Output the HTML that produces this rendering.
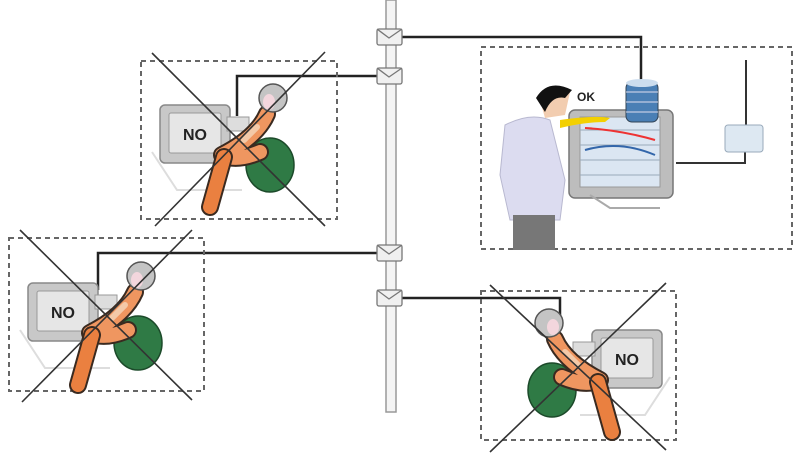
<!DOCTYPE html>
<html><head><meta charset="utf-8"><style>
html,body{margin:0;padding:0;background:#fff;}
svg{display:block;font-family:"Liberation Sans",sans-serif;}
</style></head><body>
<svg width="800" height="461" viewBox="0 0 800 461" xmlns="http://www.w3.org/2000/svg">
<defs>
<g id="user">
  <path d="M20 330 L45 368 L110 368" fill="none" stroke="#ddd" stroke-width="2"/>
  <rect x="28" y="283" width="70" height="58" rx="5" fill="#c8c8c8" stroke="#888" stroke-width="1.5"/>
  <rect x="37" y="291" width="52" height="40" rx="2" fill="#e6e6e6" stroke="#999"/>
  <rect x="95" y="295" width="22" height="14" fill="#ddd" stroke="#999"/>
  <ellipse cx="138" cy="343" rx="24" ry="27" fill="#2f7a45" stroke="#1c4a2a" stroke-width="1.5"/>
  <path d="M135 292 Q125 315 90 333 Q105 340 128 330" fill="none" stroke="#3a2a20" stroke-width="18" stroke-linecap="round" stroke-linejoin="round"/>
  <path d="M135 292 Q125 315 90 333 Q105 340 128 330" fill="none" stroke="#ef9660" stroke-width="14" stroke-linecap="round" stroke-linejoin="round"/>
  <path d="M92 335 L78 385" fill="none" stroke="#3a2a20" stroke-width="18" stroke-linecap="round"/>
  <path d="M92 335 L78 385" fill="none" stroke="#ea8040" stroke-width="14" stroke-linecap="round"/>
  <path d="M125 305 L112 318" stroke="#f3c9a8" stroke-width="6" stroke-linecap="round"/>
  <circle cx="141" cy="276" r="14" fill="#c4c4c4" stroke="#555" stroke-width="1.5"/>
  <ellipse cx="137" cy="280" rx="6" ry="8" fill="#f3d6dd"/>
</g>
</defs>
<!-- pipe -->
<rect x="386" y="0" width="10" height="412" fill="#f4f4f4" stroke="#999" stroke-width="1.5"/>
<!-- connector lines -->
<path d="M398 37 H641 V82" fill="none" stroke="#222" stroke-width="2.5"/>
<path d="M386 76 H237 V116" fill="none" stroke="#222" stroke-width="2.5"/>
<path d="M386 253 H98 V290" fill="none" stroke="#222" stroke-width="2.5"/>
<path d="M398 298 H560 V322" fill="none" stroke="#222" stroke-width="2.5"/>
<!-- connectors -->
<g fill="#f0f0f0" stroke="#777" stroke-width="1.3">
<rect x="377" y="29" width="25" height="16" rx="2"/><path d="M377 29 L389 38 L402 29" fill="none"/>
<rect x="377" y="68" width="25" height="16" rx="2"/><path d="M377 68 L389 77 L402 68" fill="none"/>
<rect x="377" y="245" width="25" height="16" rx="2"/><path d="M377 245 L389 254 L402 245" fill="none"/>
<rect x="377" y="290" width="25" height="16" rx="2"/><path d="M377 290 L389 299 L402 290" fill="none"/>
</g>
<!-- dashed boxes -->
<g fill="none" stroke="#666" stroke-width="2" stroke-dasharray="5,4">
<rect x="141" y="61" width="196" height="158"/>
<rect x="481" y="47" width="311" height="202"/>
<rect x="9" y="238" width="195" height="153"/>
<rect x="481" y="291" width="195" height="149"/>
</g>
<!-- users -->
<use href="#user" transform="translate(132,-178)"/>
<use href="#user"/>
<use href="#user" transform="translate(690,47) scale(-1,1)"/>
<g font-size="16" font-weight="bold" text-anchor="middle" fill="#222">
<text x="195" y="140">NO</text>
<text x="63" y="318">NO</text>
<text x="627" y="365">NO</text>
</g>
<!-- crosses -->
<g stroke="#333" stroke-width="1.6">
<line x1="152" y1="53" x2="325" y2="226"/><line x1="325" y1="52" x2="155" y2="226"/>
<line x1="20" y1="230" x2="192" y2="400"/><line x1="192" y1="230" x2="22" y2="402"/>
<line x1="490" y1="285" x2="666" y2="450"/><line x1="666" y1="283" x2="490" y2="452"/>
</g>
<!-- right scene -->
<rect x="569" y="110" width="104" height="88" rx="6" fill="#bdbdbd" stroke="#777" stroke-width="1.5"/>
<rect x="580" y="117" width="80" height="70" fill="#dbe6f2" stroke="#999"/>
<g stroke="#9ab" stroke-width="1"><line x1="580" y1="130" x2="660" y2="130"/><line x1="580" y1="145" x2="660" y2="145"/><line x1="580" y1="160" x2="660" y2="160"/><line x1="580" y1="175" x2="660" y2="175"/></g>
<path d="M585 128 Q620 130 655 140" stroke="#e33" stroke-width="2" fill="none"/>
<path d="M585 150 Q620 140 655 155" stroke="#36a" stroke-width="2" fill="none"/>
<path d="M590 195 L610 208 L660 208" fill="none" stroke="#aaa" stroke-width="2"/>
<g stroke="#345" stroke-width="1"><rect x="626" y="82" width="32" height="40" rx="6" fill="#4a7fb5"/>
<line x1="626" y1="92" x2="658" y2="92" stroke="#dde"/><line x1="626" y1="102" x2="658" y2="102" stroke="#dde"/><line x1="626" y1="112" x2="658" y2="112" stroke="#dde"/></g>
<ellipse cx="642" cy="83" rx="16" ry="4" fill="#cde"/>
<path d="M676 163 H745 V152" fill="none" stroke="#333" stroke-width="2"/>
<line x1="746" y1="60" x2="746" y2="125" stroke="#333" stroke-width="2"/>
<rect x="725" y="125" width="38" height="27" rx="3" fill="#dde8f2" stroke="#9ab"/>
<path d="M560 120 Q595 115 610 118 L605 122 Q585 122 560 128Z" fill="#f3d000"/>
<text x="577" y="101" font-size="12" font-weight="bold" fill="#222">OK</text>
<path d="M505 125 Q530 112 550 120 L565 180 L560 220 L510 220 L500 175Z" fill="#dcdcf0" stroke="#b8b8d0"/>
<rect x="513" y="215" width="42" height="35" fill="#777"/>
<path d="M540 100 Q550 82 570 92 L565 115 L545 118Z" fill="#f2cdb0"/>
<path d="M536 98 Q548 78 572 90 L565 98 Q552 95 545 112Z" fill="#111"/>
</svg>
</body></html>
